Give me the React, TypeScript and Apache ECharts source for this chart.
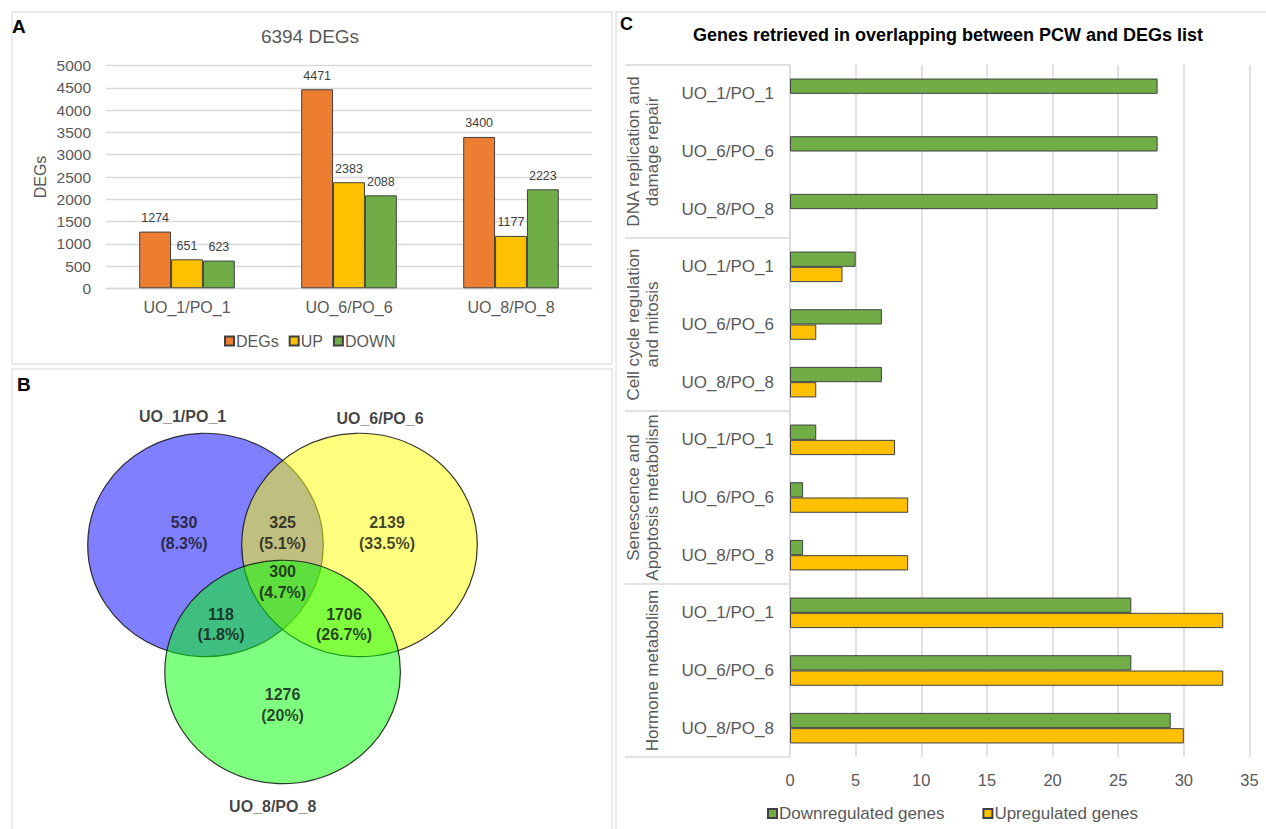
import React, { useEffect, useRef } from "react";
import * as echarts from "echarts";

// ---------- Panel A data ----------
const degCategories = ["UO_1/PO_1", "UO_6/PO_6", "UO_8/PO_8"];
const degTotal = [1274, 4471, 3400];
const degUp = [651, 2383, 1177];
const degDown = [623, 2088, 2223];
const degTicks = { min: 0, max: 5000, interval: 500 };

// ---------- Panel B data ----------
const vennSets = ["UO_1/PO_1", "UO_6/PO_6", "UO_8/PO_8"];
const vennRegions = ["only 1", "1∩6", "only 6", "1∩6∩8", "1∩8", "6∩8", "only 8"];
const vennCounts = [530, 325, 2139, 300, 118, 1706, 1276];
const vennPercents = ["8.3%", "5.1%", "33.5%", "4.7%", "1.8%", "26.7%", "20%"];

// ---------- Panel C data ----------
const pcwGroups = [
  "DNA replication and\ndamage repair",
  "Cell cycle regulation\nand mitosis",
  "Senescence and\nApoptosis metabolism",
  "Hormone metabolism",
];
const pcwComparisons = [
  "UO_1/PO_1", "UO_6/PO_6", "UO_8/PO_8",
  "UO_1/PO_1", "UO_6/PO_6", "UO_8/PO_8",
  "UO_1/PO_1", "UO_6/PO_6", "UO_8/PO_8",
  "UO_1/PO_1", "UO_6/PO_6", "UO_8/PO_8",
];
const pcwDown = [28, 28, 28, 5, 7, 7, 2, 1, 1, 26, 26, 29];
const pcwUp = [0, 0, 0, 4, 2, 2, 8, 9, 9, 33, 33, 30];
const pcwTicks = { min: 0, max: 35, interval: 5 };

// ---------- layout / style (not data) ----------
const FONT = "'Liberation Sans', Arial, Helvetica, sans-serif";
const AXIS_TEXT = "#595959";
const GRID_LINE = "#d9d9d9";
const C_ORANGE = "#ED7D31";
const C_YELLOW = "#FFC000";
const C_GREEN = "#70AD47";
const BAR_BORDER = "#404040";

// Venn layout in the panel-B local coordinate space (px inside the hidden grid)
const vennCircleCenters: [number, number][] = [
  [195.5, 177],
  [349.5, 177],
  [272.6, 304],
];
const vennCircleColors = ["rgba(0,0,255,0.5)", "rgba(255,255,0,0.5)", "rgba(0,255,0,0.5)"];
const vennCircleSize = [235.6, 223.4];
const vennRegionPos: [number, number][] = [
  [174, 165],
  [272.6, 165],
  [377, 165],
  [272.6, 214],
  [211, 256.5],
  [334, 256.5],
  [272.6, 337],
];
const vennSetPos: [number, number][] = [
  [172.6, 48],
  [370, 50],
  [262.7, 438],
];

function buildOption(): any {
  const pcwRowKeys = pcwComparisons.map((_, i) => String(i));
  const barItem = (color: string) => ({ color, borderColor: BAR_BORDER, borderWidth: 1 });
  const hideZero = (arr: number[]) =>
    arr.map((v) => (v === 0 ? { value: v, itemStyle: { borderWidth: 0 } } : v));

  return {
    animation: false,
    backgroundColor: "#ffffff",
    textStyle: { fontFamily: FONT },
    grid: [
      { left: 106, top: 65.7, width: 486, height: 222.6 },
      { left: 10, top: 368, width: 600, height: 460 },
      { left: 790, top: 65, width: 459.5, height: 692 },
    ],
    xAxis: [
      {
        gridIndex: 0,
        type: "category",
        data: degCategories,
        axisLine: { lineStyle: { color: GRID_LINE, width: 1.3 } },
        axisTick: { show: false },
        axisLabel: { color: AXIS_TEXT, fontSize: 16, margin: 11, fontFamily: FONT },
      },
      { gridIndex: 1, type: "value", min: 0, max: 600, show: false },
      {
        gridIndex: 2,
        type: "value",
        min: pcwTicks.min,
        max: pcwTicks.max,
        interval: pcwTicks.interval,
        axisLine: { show: false },
        axisTick: { show: false },
        splitLine: { show: true, lineStyle: { color: GRID_LINE, width: 1.5 } },
        axisLabel: { color: AXIS_TEXT, fontSize: 16.5, margin: 14, fontFamily: FONT },
      },
    ],
    yAxis: [
      {
        gridIndex: 0,
        type: "value",
        min: degTicks.min,
        max: degTicks.max,
        interval: degTicks.interval,
        name: "DEGs",
        nameLocation: "middle",
        nameGap: 58,
        nameTextStyle: { fontSize: 16, color: AXIS_TEXT, fontFamily: FONT },
        axisLine: { show: false },
        axisTick: { show: false },
        splitLine: { lineStyle: { color: GRID_LINE, width: 1.3 } },
        axisLabel: {
          color: AXIS_TEXT,
          fontSize: 15.5,
          margin: 15,
          fontFamily: FONT,
          formatter: (v: number) => String(v),
        },
      },
      { gridIndex: 1, type: "value", min: 0, max: 460, inverse: true, show: false },
      {
        gridIndex: 2,
        type: "category",
        position: "left",
        inverse: true,
        data: pcwRowKeys,
        axisLine: { show: true, lineStyle: { color: GRID_LINE, width: 1.5 } },
        axisTick: { show: false },
        axisLabel: {
          interval: 0,
          color: AXIS_TEXT,
          fontSize: 17,
          margin: 16,
          fontFamily: FONT,
          formatter: (v: string) => pcwComparisons[Number(v)],
        },
      },
      {
        gridIndex: 2,
        type: "category",
        position: "left",
        inverse: true,
        data: pcwGroups,
        axisLine: { show: false },
        axisTick: { show: true, length: 165, lineStyle: { color: GRID_LINE, width: 1.5 } },
        axisLabel: {
          interval: 0,
          rotate: 90,
          margin: 128,
          color: AXIS_TEXT,
          fontSize: 17,
          lineHeight: 19,
          fontFamily: FONT,
        },
        splitLine: { show: false },
      },
    ],
    legend: [
      {
        data: ["DEGs", "UP", "DOWN"],
        left: 219,
        top: 328,
        icon: "rect",
        itemWidth: 9,
        itemHeight: 9,
        itemGap: 10,
        textStyle: { fontSize: 16, color: AXIS_TEXT, fontFamily: FONT, padding: [0, 0, 0, -3] },
      },
      {
        data: ["Downregulated genes", "Upregulated genes"],
        left: 762,
        top: 800,
        icon: "rect",
        itemWidth: 9,
        itemHeight: 9,
        itemGap: 38,
        textStyle: { fontSize: 17, color: AXIS_TEXT, fontFamily: FONT, padding: [0, 0, 0, -3] },
      },
    ],
    graphic: [
      { type: "rect", z: -10, shape: { x: 12, y: 12, width: 600, height: 352 }, style: { fill: "none", stroke: "#e3e3e3", lineWidth: 1.5 } },
      { type: "rect", z: -10, shape: { x: 12, y: 369, width: 600, height: 470 }, style: { fill: "none", stroke: "#e3e3e3", lineWidth: 1.5 } },
      { type: "rect", z: -10, shape: { x: 616, y: 12, width: 660, height: 830 }, style: { fill: "none", stroke: "#e3e3e3", lineWidth: 1.5 } },
      { type: "text", x: 12, y: 17, style: { text: "A", fontSize: 19, fontWeight: "bold", fontFamily: FONT, fill: "#000" } },
      { type: "text", x: 17, y: 375, style: { text: "B", fontSize: 19, fontWeight: "bold", fontFamily: FONT, fill: "#000" } },
      { type: "text", x: 620, y: 15, style: { text: "C", fontSize: 18, fontWeight: "bold", fontFamily: FONT, fill: "#000" } },
      {
        type: "text",
        x: 310,
        y: 36,
        style: { text: "6394 DEGs", fontSize: 19, fontFamily: FONT, fill: "#595959", textAlign: "center", textVerticalAlign: "middle" },
      },
      {
        type: "text",
        x: 948,
        y: 35,
        style: {
          text: "Genes retrieved in overlapping between PCW and DEGs list",
          fontSize: 18,
          fontWeight: "bold",
          fontFamily: FONT,
          fill: "#000",
          textAlign: "center",
          textVerticalAlign: "middle",
        },
      },
    ],
    series: [
      {
        type: "bar",
        name: "DEGs",
        xAxisIndex: 0,
        yAxisIndex: 0,
        data: degTotal,
        barGap: "0%",
        barCategoryGap: "41%",
        itemStyle: barItem(C_ORANGE),
        label: { show: true, position: "top", distance: 7, fontSize: 12.5, color: "#404040", fontFamily: FONT },
      },
      {
        type: "bar",
        name: "UP",
        xAxisIndex: 0,
        yAxisIndex: 0,
        data: degUp,
        barGap: "0%",
        barCategoryGap: "41%",
        itemStyle: barItem(C_YELLOW),
        label: { show: true, position: "top", distance: 7, fontSize: 12.5, color: "#404040", fontFamily: FONT },
      },
      {
        type: "bar",
        name: "DOWN",
        xAxisIndex: 0,
        yAxisIndex: 0,
        data: degDown,
        barGap: "0%",
        barCategoryGap: "41%",
        itemStyle: barItem(C_GREEN),
        label: { show: true, position: "top", distance: 7, fontSize: 12.5, color: "#404040", fontFamily: FONT },
      },
      {
        type: "scatter",
        name: "vennCircles",
        xAxisIndex: 1,
        yAxisIndex: 1,
        symbol: "circle",
        symbolSize: vennCircleSize,
        silent: true,
        data: vennSets.map((name, i) => ({
          name,
          value: vennCircleCenters[i],
          itemStyle: { color: vennCircleColors[i], borderColor: "rgba(20,20,20,0.85)", borderWidth: 1.2, opacity: 1 },
        })),
      },
      {
        type: "scatter",
        name: "vennCounts",
        xAxisIndex: 1,
        yAxisIndex: 1,
        symbolSize: 1,
        silent: true,
        itemStyle: { color: "transparent" },
        z: 5,
        data: vennRegions.map((name, i) => ({ name, value: vennRegionPos[i] })),
        label: {
          show: true,
          position: "inside",
          formatter: (p: any) => `${vennCounts[p.dataIndex]}\n(${vennPercents[p.dataIndex]})`,
          fontSize: 16,
          lineHeight: 20.5,
          fontWeight: "bold",
          color: "#111",
          fontFamily: FONT,
        },
      },
      {
        type: "scatter",
        name: "vennSetNames",
        xAxisIndex: 1,
        yAxisIndex: 1,
        symbolSize: 1,
        silent: true,
        itemStyle: { color: "transparent" },
        z: 5,
        data: vennSets.map((name, i) => ({ name, value: vennSetPos[i] })),
        label: {
          show: true,
          position: "inside",
          formatter: (p: any) => vennSets[p.dataIndex],
          fontSize: 16,
          fontWeight: "bold",
          color: "#111",
          fontFamily: FONT,
        },
      },
      {
        type: "bar",
        name: "Downregulated genes",
        xAxisIndex: 2,
        yAxisIndex: 2,
        data: hideZero(pcwDown),
        barGap: "0%",
        barCategoryGap: "47%",
        itemStyle: barItem(C_GREEN),
      },
      {
        type: "bar",
        name: "Upregulated genes",
        xAxisIndex: 2,
        yAxisIndex: 2,
        data: hideZero(pcwUp),
        barGap: "0%",
        barCategoryGap: "47%",
        itemStyle: barItem(C_YELLOW),
      },
    ],
  };
}

export default function App() {
  const ref = useRef<HTMLDivElement>(null);
  useEffect(() => {
    if (!ref.current) return;
    const chart = echarts.init(ref.current, null, { renderer: "svg" });
    chart.setOption(buildOption());
    return () => chart.dispose();
  }, []);
  return (
    <div
      ref={ref}
      style={{ position: "fixed", left: 0, top: 0, width: 1266, height: 829, background: "#ffffff" }}
    />
  );
}
